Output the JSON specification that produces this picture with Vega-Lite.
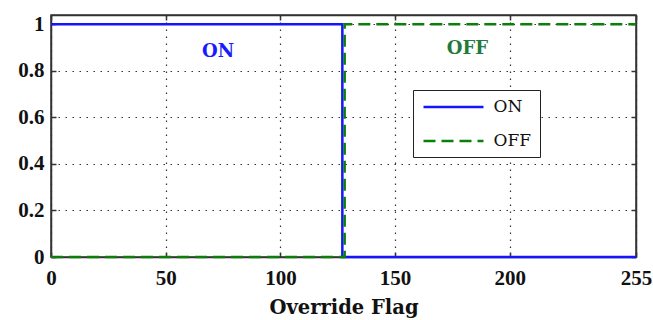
{
  "$schema": "https://vega.github.io/schema/vega-lite/v6.json",
  "width": 585,
  "height": 242,
  "autosize": {"type": "none"},
  "padding": {"left": 51, "top": 15, "right": 17, "bottom": 63},
  "background": "white",
  "datasets": {
    "lines": [
      {"series": "ON", "x": 0, "y": 1, "i": 0},
      {"series": "ON", "x": 127, "y": 1, "i": 1},
      {"series": "ON", "x": 127, "y": 0, "i": 2},
      {"series": "ON", "x": 255, "y": 0, "i": 3},
      {"series": "OFF", "x": 0, "y": 0, "i": 0},
      {"series": "OFF", "x": 128, "y": 0, "i": 1},
      {"series": "OFF", "x": 128, "y": 1, "i": 2},
      {"series": "OFF", "x": 255, "y": 1, "i": 3}
    ],
    "labels": [
      {"label": "ON", "x": 72.8, "y": 0.88},
      {"label": "OFF", "x": 181.5, "y": 0.893}
    ]
  },
  "config": {
    "view": {"stroke": "#333", "strokeWidth": 1.5},
    "axis": {
      "labelFont": "Liberation Serif",
      "labelFontSize": 21,
      "labelFontWeight": "bold",
      "labelColor": "#111",
      "labelFlush": false,
      "titleFont": "DejaVu Serif",
      "titleFontSize": 19.5,
      "titleFontWeight": "bold",
      "titleColor": "#111",
      "domainColor": "#333",
      "domainWidth": 1.5,
      "tickColor": "#333",
      "tickWidth": 1.5,
      "gridColor": "#333",
      "gridDash": [1.5, 5.5],
      "gridWidth": 1.2,
      "gridOpacity": 1
    }
  },
  "layer": [
    {
      "data": {"name": "lines"},
      "mark": {"type": "line", "strokeWidth": 2.5, "clip": false},
      "encoding": {
        "x": {
          "field": "x", "type": "quantitative",
          "scale": {"domain": [0, 255], "nice": false, "zero": false},
          "axis": {
            "orient": "bottom",
            "values": [0, 50, 100, 150, 200, 255],
            "title": "Override Flag",
            "titlePadding": 10,
            "tickSize": -5,
            "labelPadding": 15,
            "grid": true
          }
        },
        "y": {
          "field": "y", "type": "quantitative",
          "scale": {"domain": [0, 1.04], "nice": false},
          "axis": {
            "orient": "left",
            "values": [0, 0.2, 0.4, 0.6, 0.8, 1],
            "format": ".1~f",
            "title": null,
            "tickSize": -5,
            "labelPadding": 12,
            "grid": true
          }
        },
        "color": {
          "field": "series", "type": "nominal",
          "scale": {"domain": ["ON", "OFF"], "range": ["#1414ff", "#0a800a"]},
          "legend": {
            "title": null,
            "orient": "none",
            "legendX": 362,
            "legendY": 75,
            "padding": 8,
            "strokeColor": "#222",
            "fillColor": "white",
            "symbolType": "M-4,0H4",
            "symbolSize": 225,
            "symbolOffset": 23.5,
            "symbolStrokeWidth": 2.5,
            "labelFont": "DejaVu Serif",
            "labelFontSize": 17,
            "labelColor": "#111",
            "labelOffset": 31,
            "rowPadding": 17
          }
        },
        "strokeDash": {
          "field": "series", "type": "nominal",
          "scale": {"domain": ["ON", "OFF"], "range": [[1, 0], [12, 6]]},
          "legend": {
            "title": null,
            "orient": "none",
            "legendX": 362,
            "legendY": 75
          }
        },
        "order": {"field": "i", "type": "quantitative"}
      }
    },
    {
      "data": {"name": "labels"},
      "transform": [{"filter": "datum.label === 'ON'"}],
      "mark": {"type": "text", "font": "DejaVu Serif", "fontSize": 18, "fontWeight": "bold", "align": "center", "baseline": "middle", "color": "#1a1aff"},
      "encoding": {
        "x": {"field": "x", "type": "quantitative", "axis": null},
        "y": {"field": "y", "type": "quantitative", "axis": null},
        "text": {"field": "label"}
      }
    },
    {
      "data": {"name": "labels"},
      "transform": [{"filter": "datum.label === 'OFF'"}],
      "mark": {"type": "text", "font": "DejaVu Serif", "fontSize": 18, "fontWeight": "bold", "align": "center", "baseline": "middle", "color": "#1f7a3c"},
      "encoding": {
        "x": {"field": "x", "type": "quantitative", "axis": null},
        "y": {"field": "y", "type": "quantitative", "axis": null},
        "text": {"field": "label"}
      }
    },
    {
      "data": {"name": "labels"},
      "mark": {"type": "point", "opacity": 0},
      "encoding": {
        "x": {
          "field": "x", "type": "quantitative",
          "axis": {"orient": "top", "values": [0, 50, 100, 150, 200, 255], "labels": false, "title": null, "tickSize": -5, "grid": false}
        },
        "y": {
          "field": "y", "type": "quantitative",
          "axis": {"orient": "right", "values": [0, 0.2, 0.4, 0.6, 0.8, 1], "labels": false, "title": null, "tickSize": -5, "grid": false}
        }
      }
    }
  ],
  "resolve": {"axis": {"x": "independent", "y": "independent"}}
}
